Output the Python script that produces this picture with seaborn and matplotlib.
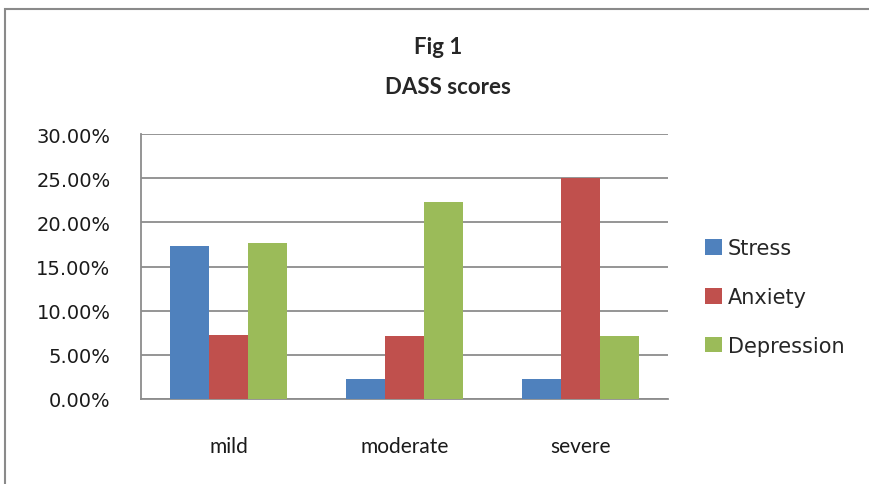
import pandas as pd
import seaborn as sns
import matplotlib.pyplot as plt
from matplotlib.patches import Rectangle
from matplotlib.ticker import PercentFormatter

# data
levels = ['mild', 'moderate', 'severe']
stress = [0.173, 0.023, 0.023]
anxiety = [0.073, 0.071, 0.250]
depression = [0.177, 0.223, 0.071]

series_names = ['Stress', 'Anxiety', 'Depression']
colours = ['#4F81BD', '#C0504D', '#9BBB59']

## long form for seaborn
df = pd.DataFrame({
    'level': levels * 3,
    'score': stress + anxiety + depression,
    'scale': [s for s in series_names for _ in levels],
})

sns.set_style('white')
plt.rcParams['font.family'] = ['DejaVu Sans']

fig = plt.figure(figsize=(8.69, 4.85), dpi=100)
ax = fig.add_axes([141/869, 85/485, 527/869, 265/485])

sns.barplot(data=df, x='level', y='score', hue='scale', hue_order=series_names,
            palette=colours, width=0.667, gap=0, saturation=1, linewidth=0,
            ax=ax, zorder=3)

ax.set_ylim(0, 0.30)
ax.set_yticks([0, 0.05, 0.10, 0.15, 0.20, 0.25, 0.30])
ax.yaxis.set_major_formatter(PercentFormatter(1.0, decimals=2))
ax.grid(axis='y', color='#8c8c8c', lw=1.3, zorder=0)
ax.set_axisbelow(True)
ax.set_xlabel('')
ax.set_ylabel('')
ax.tick_params(axis='y', length=0, pad=22, labelsize=14, labelcolor='#1a1a1a')
ax.tick_params(axis='x', length=0, pad=27, labelsize=15, labelcolor='#1a1a1a')
for lab in ax.get_xticklabels():
    lab.set_family('Lato')
for side in ['top', 'right']:
    ax.spines[side].set_visible(False)
for side in ['left', 'bottom']:
    ax.spines[side].set_color('#8c8c8c')
    ax.spines[side].set_linewidth(1.3)

leg = ax.legend(loc='center left', bbox_to_anchor=(1.035, 0.385), frameon=False,
                fontsize=15, handlelength=0.8, handleheight=0.8,
                handletextpad=0.3, labelspacing=1.38)

fig.text(438/869, 1 - 48/485, 'Fig 1', ha='center', va='center',
         fontsize=16, fontweight='bold', family='Lato')
fig.text(448/869, 1 - 88/485, 'DASS scores', ha='center', va='center',
         fontsize=16, fontweight='bold', family='Lato')

# chart frame
fig.patches.append(Rectangle((5/869, -0.1), 1.0, 1 - 10/485 + 0.1,
                             transform=fig.transFigure, fill=False,
                             edgecolor='#8a8a8a', lw=1.5))

fig.savefig('out.png', dpi=100)
